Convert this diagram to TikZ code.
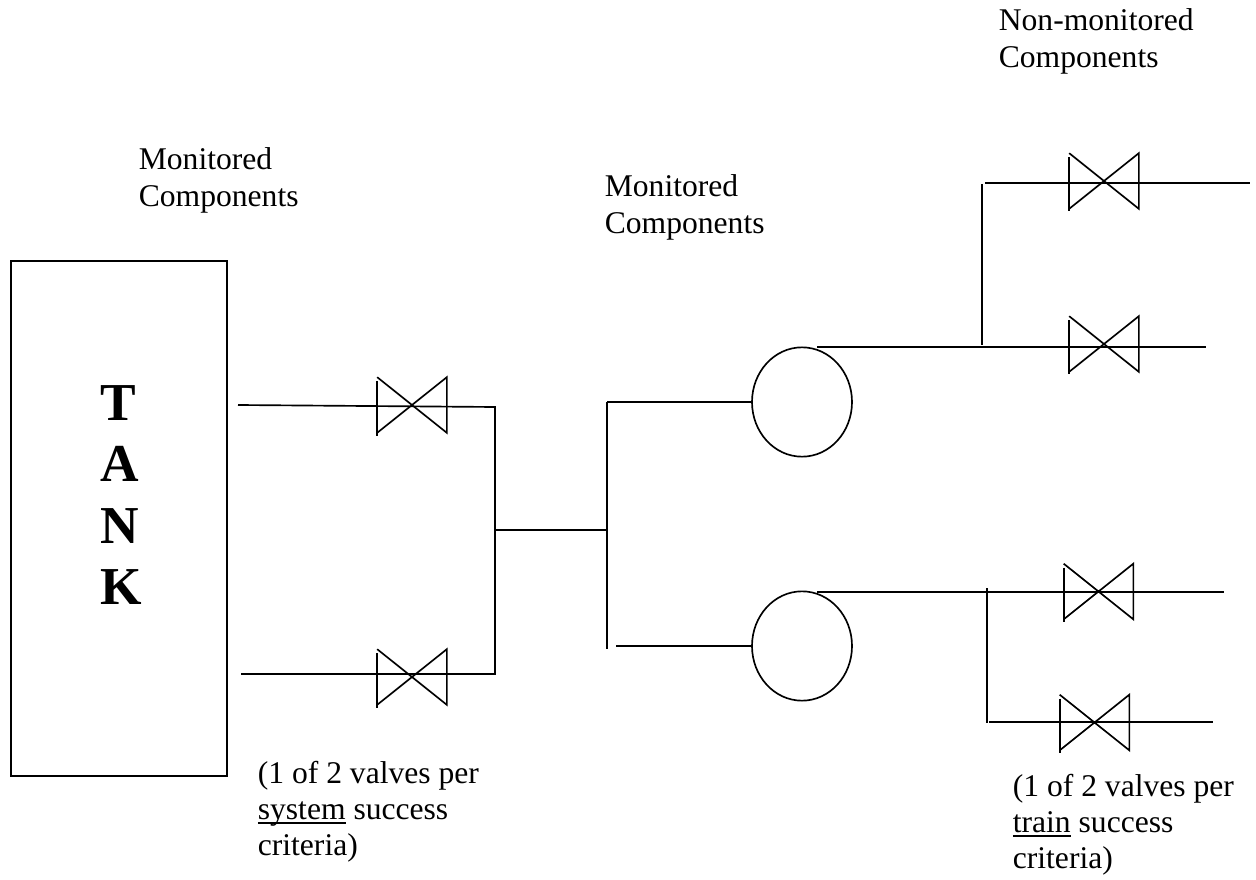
\documentclass[tikz,border=0pt]{standalone}
\usepackage{fontspec}
\setmainfont{Liberation Serif}
\usepackage{tikz}
\usetikzlibrary{shapes.geometric}
\newcommand{\ulword}[1]{\leavevmode\setbox0=\hbox{#1}\rlap{\rule[-3.6pt]{\wd0}{1.4pt}}\box0\relax}

\begin{document}
\begin{tikzpicture}[x=0.75pt, y=-0.75pt, line width=1.25pt,
    labeltext/.style={anchor=north west, inner sep=0pt, align=left,
      font=\fontsize{23.7}{27.2}\selectfont},
    valvebox/.style={minimum width=51pt, minimum height=40.5pt, inner sep=0pt},
    pumpcircle/.style={draw, ellipse, minimum width=75pt, minimum height=82pt, inner sep=0pt}]
        \useasboundingbox (0,0) rectangle (1256,880);
        % Tank
        \node[draw, minimum width=162pt, minimum height=386pt, inner sep=0pt] (tank) at (119,518.5) {};
        \node[anchor=west, inner sep=0pt, align=left, font=\fontsize{40}{46}\selectfont\bfseries] (tankname) at (99.5,495)
          {T\\A\\N\\K};
        % Valves (name, x, y)
        \foreach \vname/\px/\py in {
            valveA/412/405, valveB/412/677, valveC/1104/181,
            valveD/1104/344, valveE/1098.5/591.5, valveF/1094.5/722.5} {
          \node[valvebox] (\vname) at (\px,\py) {};
          \draw (\vname.north west) -- (\vname.south east) -- (\vname.north east)
            -- (\vname.south west);
          \draw ([yshift=-3pt]\vname.north west) -- ([yshift=-2pt]\vname.south west);
        }
        % Pumps
        \node[pumpcircle] (pumpA) at (802,402) {};
        \node[pumpcircle] (pumpB) at (802,646) {};
        % Free ends and tees of the lines
        \foreach \cname/\px/\py in {
            tankA/238/405, headA/495/407, tankB/241/674, headB/495/674,
            crossA/496/530, crossB/606/530, splitA/607/402, splitB/607/649,
            feedB/616/646, outA/817/347, teeA/982/345, riseA/982/184,
            startC/985/183, endC/1250/183, endD/1206/347, outB/817/592,
            teeB/987/588, dropB/987/723, startF/989/722, endE/1224/592, endF/1213/722} {
          \coordinate (\cname) at (\px,\py);
        }
        % Suction side
        \draw (tankA) -- (headA) -- (headB) -- (tankB);
        \draw (crossA) -- (crossB);
        \draw (splitA) -- (splitB);
        \draw (splitA) -- (pumpA.west);
        \draw (feedB) -- (pumpB.west);
        % Discharge side
        \draw (outA) -- (endD);
        \draw (teeA) -- (riseA);
        \draw (startC) -- (endC);
        \draw (outB) -- (endE);
        \draw (teeB) -- (dropB);
        \draw (startF) -- (endF);
        % Labels
        \node[labeltext] (labelA) at (138,147) {Monitored\\Components};
        \node[labeltext] (labelB) at (604,174) {Monitored\\Components};
        \node[labeltext] (labelC) at (998,8) {Non-monitored\\Components};
        \node[labeltext] (labelD) at (257,760) {(1 of 2 valves per\\\ulword{system} success\\criteria)};
        \node[labeltext] (labelE) at (1012,773) {(1 of 2 valves per\\\ulword{train} success\\criteria)};
\end{tikzpicture}
\end{document}
